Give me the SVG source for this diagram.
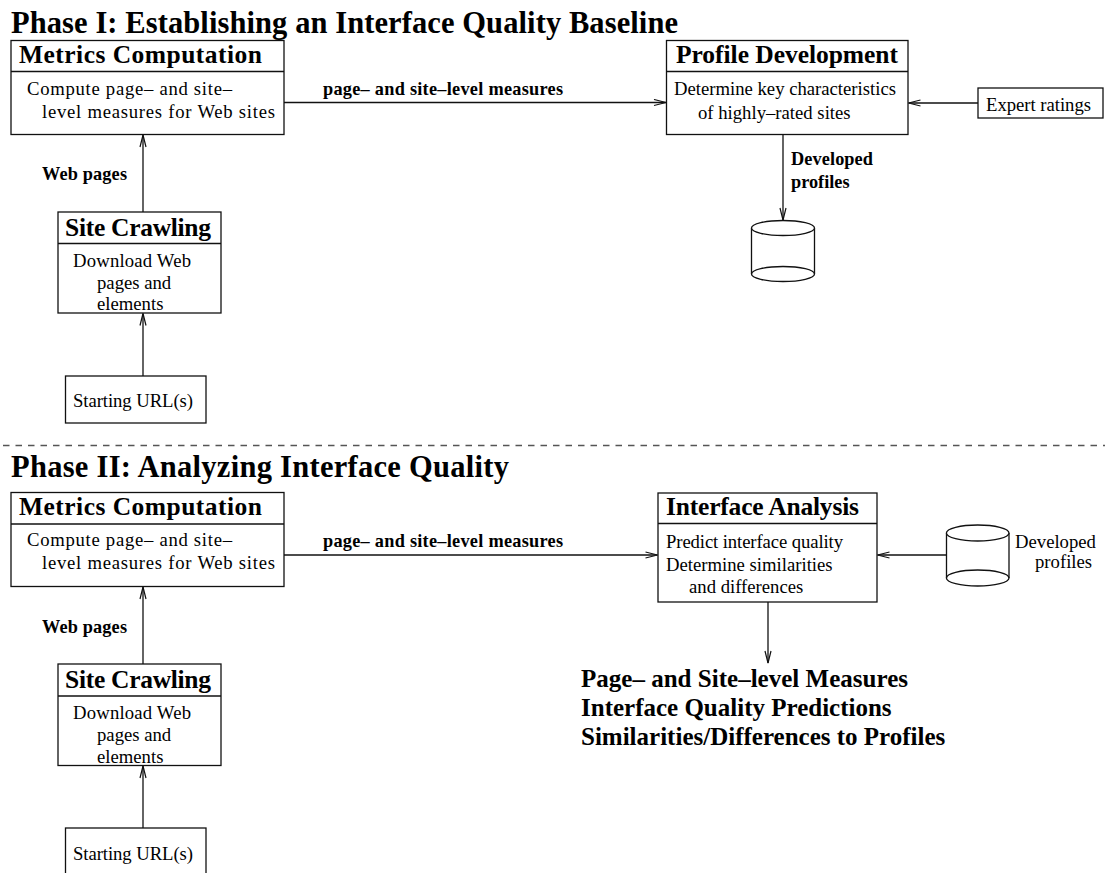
<svg xmlns="http://www.w3.org/2000/svg" width="1105" height="873" viewBox="0 0 1105 873">
<style>
text{font-family:"Liberation Serif","Times New Roman",serif;fill:#000}
.ph{font-size:30.5px;font-weight:bold}
.ttl{font-size:25.5px;font-weight:bold}
.body{font-size:18.7px}
.lbl{font-size:18.3px;font-weight:bold}
.out{font-size:25px;font-weight:bold}
.box{fill:#fff;stroke:#111;stroke-width:1.3}
.ln{fill:none;stroke:#111;stroke-width:1.3}
.conn line{stroke:#111;stroke-width:1.3;marker-end:url(#ah)}
</style>
<defs>
<marker id="ah" markerUnits="userSpaceOnUse" markerWidth="14" markerHeight="8" viewBox="0 0 14 8" refX="13" refY="4" orient="auto">
<path d="M1,1 L13,4 L1,7" fill="none" stroke="#111" stroke-width="1.2"/>
</marker>
</defs>
<rect width="1105" height="873" fill="#fff"/>

<text class="ph" x="11" y="33" textLength="667">Phase I: Establishing an Interface Quality Baseline</text>
<line x1="0" y1="445.5" x2="1105" y2="445.5" stroke="#555" stroke-width="1.3" stroke-dasharray="6.5 6" stroke-dashoffset="-3"/>
<text class="ph" x="11" y="477" textLength="498">Phase II: Analyzing Interface Quality</text>

<g id="metrics1">
<rect class="box" x="11" y="40.5" width="273" height="94"/>
<line class="ln" x1="11" y1="71.5" x2="284" y2="71.5"/>
<text class="ttl" x="19" y="63" textLength="243">Metrics Computation</text>
<text class="body" x="27" y="95" textLength="205">Compute page– and site–</text>
<text class="body" x="42" y="118" textLength="233">level measures for Web sites</text>
</g>

<g id="profile">
<rect class="box" x="666.5" y="40.5" width="241.5" height="94"/>
<line class="ln" x1="666.5" y1="71.5" x2="908" y2="71.5"/>
<text class="ttl" x="676" y="63" textLength="222">Profile Development</text>
<text class="body" x="674" y="95" textLength="222">Determine key characteristics</text>
<text class="body" x="698" y="119">of highly–rated sites</text>
</g>

<g id="expert">
<rect class="box" x="978" y="88" width="125" height="30"/>
<text class="body" x="986" y="111" textLength="105">Expert ratings</text>
</g>

<g id="db1">
<path class="ln" d="M751.5,228 L751.5,274 M814.5,228 L814.5,274"/>
<ellipse class="box" cx="783" cy="228" rx="31.5" ry="7.5"/>
<ellipse class="ln" cx="783" cy="274" rx="31.5" ry="7.5"/>
</g>

<g id="crawl1">
<rect class="box" x="58" y="212" width="163" height="101"/>
<line class="ln" x1="58" y1="243.5" x2="221" y2="243.5"/>
<text class="ttl" x="65" y="236" textLength="146">Site Crawling</text>
<text class="body" x="73" y="267" textLength="118">Download Web</text>
<text class="body" x="97" y="289">pages and</text>
<text class="body" x="97" y="310">elements</text>
</g>

<g id="url1">
<rect class="box" x="65.5" y="376" width="140.5" height="47"/>
<text class="body" x="73" y="407" textLength="120">Starting URL(s)</text>
</g>

<g id="metrics2">
<rect class="box" x="11" y="492.5" width="273" height="94"/>
<line class="ln" x1="11" y1="524" x2="284" y2="524"/>
<text class="ttl" x="19" y="515" textLength="243">Metrics Computation</text>
<text class="body" x="27" y="546" textLength="205">Compute page– and site–</text>
<text class="body" x="42" y="569" textLength="233">level measures for Web sites</text>
</g>

<g id="analysis">
<rect class="box" x="658" y="493" width="219" height="109"/>
<line class="ln" x1="658" y1="523.5" x2="877" y2="523.5"/>
<text class="ttl" x="666" y="515" textLength="193">Interface Analysis</text>
<text class="body" x="666" y="548" textLength="177">Predict interface quality</text>
<text class="body" x="666" y="571">Determine similarities</text>
<text class="body" x="689" y="593">and differences</text>
</g>

<g id="db2">
<path class="ln" d="M946.5,533 L946.5,578 M1009,533 L1009,578"/>
<ellipse class="box" cx="977.7" cy="533" rx="31.3" ry="8"/>
<ellipse class="ln" cx="977.7" cy="578" rx="31.3" ry="8"/>
<text class="body" x="1015" y="548">Developed</text>
<text class="body" x="1035" y="568">profiles</text>
</g>

<g id="output">
<text class="out" x="581" y="687" textLength="327">Page– and Site–level Measures</text>
<text class="out" x="581" y="716">Interface Quality Predictions</text>
<text class="out" x="581" y="745">Similarities/Differences to Profiles</text>
</g>

<g id="crawl2">
<rect class="box" x="58" y="664" width="163" height="101.5"/>
<line class="ln" x1="58" y1="696" x2="221" y2="696"/>
<text class="ttl" x="65" y="688" textLength="146">Site Crawling</text>
<text class="body" x="73" y="719" textLength="118">Download Web</text>
<text class="body" x="97" y="741">pages and</text>
<text class="body" x="97" y="763">elements</text>
</g>

<g id="url2">
<rect class="box" x="65.5" y="828" width="140.5" height="50"/>
<text class="body" x="73" y="860" textLength="120">Starting URL(s)</text>
</g>

<g id="connectors" class="conn">
<line x1="284" y1="102.5" x2="666" y2="102.5"/>
<line x1="978" y1="103" x2="908.5" y2="103"/>
<line x1="783" y1="134.5" x2="783" y2="220"/>
<line x1="143" y1="212" x2="143" y2="135"/>
<line x1="143" y1="376" x2="143" y2="313.5"/>
<line x1="284" y1="555" x2="657.5" y2="555"/>
<line x1="946.5" y1="555" x2="877.5" y2="555"/>
<line x1="768" y1="602" x2="768" y2="663"/>
<line x1="143" y1="664" x2="143" y2="587"/>
<line x1="143" y1="828" x2="143" y2="766"/>
</g>
<g id="connector-labels">
<text class="lbl" x="323" y="95" textLength="240">page– and site–level measures</text>
<text class="lbl" x="323" y="547" textLength="240">page– and site–level measures</text>
<text class="lbl" x="791" y="165" textLength="82">Developed</text>
<text class="lbl" x="791" y="188">profiles</text>
<text class="lbl" x="42" y="180" textLength="85">Web pages</text>
<text class="lbl" x="42" y="633" textLength="85">Web pages</text>
</g>
</svg>
